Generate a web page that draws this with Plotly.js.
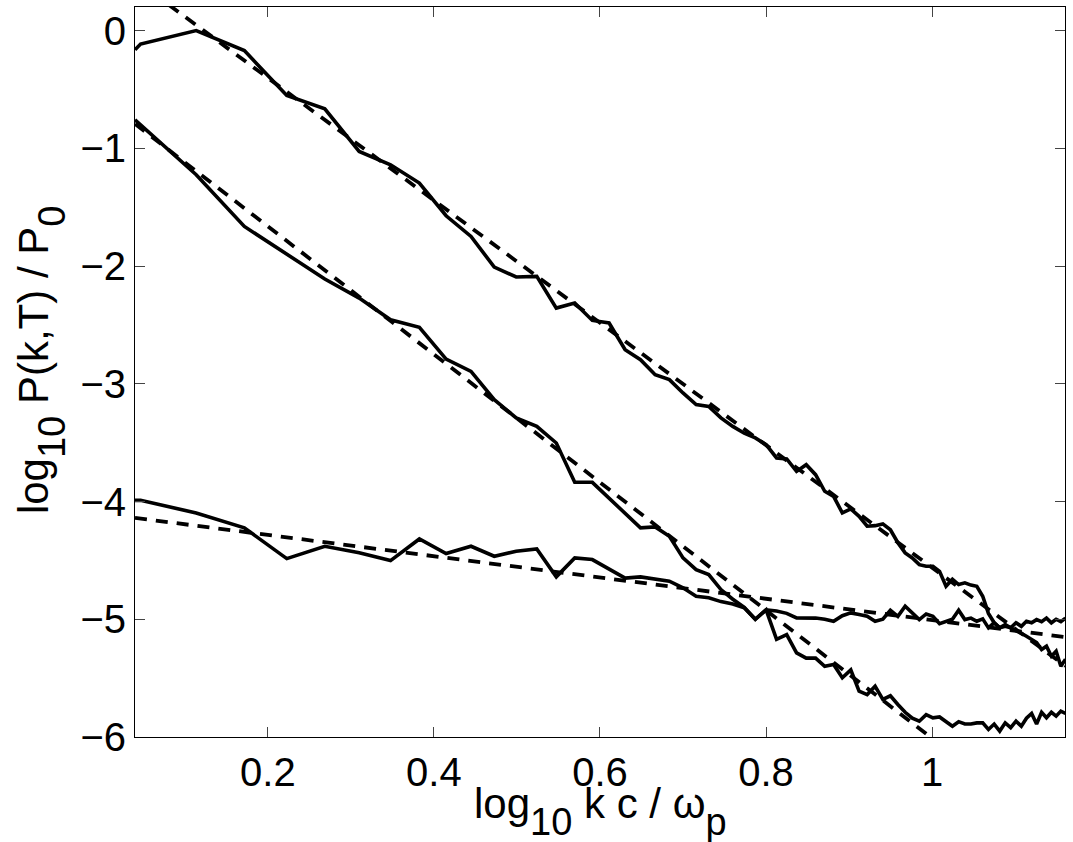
<!DOCTYPE html>
<html>
<head>
<meta charset="utf-8">
<script src="https://cdn.plot.ly/plotly-3.0.1.min.js"></script>
<style>
html,body{margin:0;padding:0;background:#fff;}
#chart{width:1073px;height:842px;}
</style>
</head>
<body>
<div id="chart"></div>
<script>
// log10 k c / omega_p sample positions
const logK = [0.04, 0.0467, 0.1137, 0.1717, 0.2228, 0.2686, 0.3100, 0.3478, 0.3825, 0.4147,
  0.4447, 0.4727, 0.4991, 0.5239, 0.5474, 0.5696, 0.5908, 0.6110, 0.6303, 0.6488,
  0.6665, 0.6836, 0.7000, 0.7158, 0.7310, 0.7457, 0.7600, 0.7738, 0.7871, 0.8001,
  0.8127, 0.8249, 0.8368, 0.8484, 0.8597, 0.8707, 0.8814, 0.8919, 0.9021, 0.9121,
  0.9218, 0.9314, 0.9407, 0.9498, 0.9588, 0.9676, 0.9762, 0.9846, 0.9929, 1.0010,
  1.0090, 1.0168, 1.0245, 1.0320, 1.0395, 1.0468, 1.0539, 1.0610, 1.0679, 1.0748,
  1.0815, 1.0881, 1.0947, 1.1011, 1.1075, 1.1137, 1.1199, 1.1259, 1.1319, 1.1378,
  1.1437, 1.1494, 1.1551, 1.1607];

// upper spectrum
const specTop = [-0.164, -0.115, 0.0, -0.17, -0.552, -0.665, -1.027, -1.14, -1.295, -1.573,
  -1.749, -2.009, -2.093, -2.088, -2.357, -2.314, -2.462, -2.484, -2.711, -2.795,
  -2.923, -2.965, -3.078, -3.177, -3.192, -3.29, -3.362, -3.42, -3.46, -3.517,
  -3.63, -3.638, -3.744, -3.687, -3.772, -3.913, -3.956, -4.097, -4.063, -4.126,
  -4.21, -4.205, -4.19, -4.24, -4.35, -4.436, -4.479, -4.536, -4.55, -4.55,
  -4.593, -4.72, -4.66, -4.705, -4.691, -4.71, -4.72, -4.805, -4.95, -5.03,
  -5.073, -5.045, -5.073, -5.1, -5.12, -5.144, -5.17, -5.198, -5.257, -5.229,
  -5.314, -5.271, -5.399, -5.34];

// middle spectrum
const specMid = [-0.758, -0.80, -1.225, -1.664, -1.90, -2.11, -2.272, -2.456, -2.521, -2.79,
  -2.895, -3.135, -3.29, -3.362, -3.503, -3.837, -3.837, -3.97, -4.097, -4.224,
  -4.216, -4.295, -4.479, -4.578, -4.62, -4.748, -4.83, -4.9, -5.0, -4.92,
  -5.17, -5.13, -5.285, -5.33, -5.33, -5.399, -5.385, -5.497, -5.43, -5.611,
  -5.64, -5.569, -5.68, -5.65, -5.724, -5.79, -5.84, -5.866, -5.81, -5.837,
  -5.83, -5.87, -5.908, -5.87, -5.89, -5.89, -5.88, -5.88, -5.936, -5.89,
  -5.95, -5.88, -5.92, -5.866, -5.908, -5.84, -5.80, -5.89, -5.79, -5.837,
  -5.79, -5.823, -5.78, -5.80];

// lower spectrum
const specLow = [-3.99, -3.99, -4.097, -4.224, -4.485, -4.38, -4.436, -4.502, -4.318, -4.442,
  -4.38, -4.465, -4.423, -4.402, -4.64, -4.479, -4.493, -4.572, -4.65, -4.64,
  -4.657, -4.677, -4.733, -4.805, -4.818, -4.85, -4.87, -4.903, -5.0, -4.92,
  -4.93, -4.95, -4.988, -4.99, -4.99, -5.0, -5.017, -4.97, -4.946, -4.96,
  -4.975, -5.017, -5.0, -4.924, -4.975, -4.89, -4.946, -5.003, -4.955, -4.975,
  -5.037, -5.017, -5.0, -4.924, -5.003, -4.99, -5.017, -4.997, -5.073, -5.03,
  -5.073, -5.06, -5.073, -5.03, -5.06, -5.017, -5.03, -5.003, -5.02, -4.99,
  -5.03, -5.0, -5.02, -4.99];

// power-law fits (dashed), end points
const fitTopX = [0.04, 1.1607];
const fitTopY = [0.430, -5.397];
const fitMidX = [0.04, 1.02];
const fitMidY = [-0.793, -6.12];
const fitLowX = [0.04, 1.1607];
const fitLowY = [-4.139, -5.152];

const xTicks = [0.2, 0.4, 0.6, 0.8, 1];
const xTickText = ['0.2', '0.4', '0.6', '0.8', '1'];
const yTicks = [-6, -5, -4, -3, -2, -1, 0];

const subStyle = 'font-size:38px;baseline-shift:-8px';
const xLabel = 'log<sub><span style="' + subStyle + '">10</span></sub> k c / ω<sub><span style="' + subStyle + '">p</span></sub>';
const yLabel = 'log<sub><span style="' + subStyle + '">10</span></sub> P(k,T) / P<sub><span style="' + subStyle + '">0</span></sub>';

const solid = {color: '#000', width: 3.6};
const dashed = {color: '#000', width: 3.8, dash: '12px,9px'};

const traces = [
  {x: fitTopX, y: fitTopY, mode: 'lines', line: dashed},
  {x: fitMidX, y: fitMidY, mode: 'lines', line: dashed},
  {x: fitLowX, y: fitLowY, mode: 'lines', line: dashed},
  {x: logK, y: specTop, mode: 'lines', line: solid},
  {x: logK, y: specMid, mode: 'lines', line: solid},
  {x: logK, y: specLow, mode: 'lines', line: solid}
];

const fontFam = '"Liberation Sans", Arial, Helvetica, sans-serif';

const layout = {
  width: 1073, height: 842,
  margin: {l: 135, r: 8, t: 7, b: 105},
  paper_bgcolor: '#fff', plot_bgcolor: '#fff',
  showlegend: false,
  font: {family: fontFam, size: 40, color: '#000'},
  xaxis: {
    range: [0.04, 1.1601],
    tickvals: xTicks, ticktext: xTickText,
    ticks: 'inside', ticklen: 10, tickwidth: 1, tickcolor: '#444',
    showline: true, linecolor: '#000', linewidth: 1, mirror: 'ticks',
    showgrid: false, zeroline: false,
    tickfont: {family: fontFam, size: 40, color: '#000'},
    automargin: false
  },
  yaxis: {
    range: [-6, 0.2],
    tickvals: yTicks,
    ticks: 'inside', ticklen: 10, tickwidth: 1, tickcolor: '#444',
    showline: true, linecolor: '#000', linewidth: 1, mirror: 'ticks',
    showgrid: false, zeroline: false,
    tickfont: {family: fontFam, size: 40, color: '#000'},
    automargin: false
  },
  annotations: [
    {text: xLabel, xref: 'paper', yref: 'paper', x: 0.5, y: -0.1014,
     xanchor: 'center', yanchor: 'middle', showarrow: false,
     font: {family: fontFam, size: 42, color: '#000'}},
    {text: yLabel, xref: 'paper', yref: 'paper', x: -0.101, y: 0.5164,
     xanchor: 'center', yanchor: 'middle', showarrow: false, textangle: -90,
     font: {family: fontFam, size: 42, color: '#000'}}
  ]
};

Plotly.newPlot('chart', traces, layout, {displayModeBar: false, staticPlot: true});
</script>
</body>
</html>
